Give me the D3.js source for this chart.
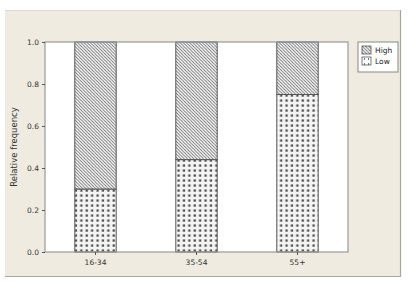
<!DOCTYPE html>
<html>
<head>
<meta charset="utf-8">
<script src="https://cdn.jsdelivr.net/npm/d3@7"></script>
<style>
  body { margin: 0; background: #fff; }
  svg { display: block; font-family: "DejaVu Sans", Verdana, sans-serif; }
</style>
</head>
<body>
<script>
// age groups and relative frequency of each level
const ageGroups = ["16-34", "35-54", "55+"];
const lowValues = [0.30, 0.44, 0.75];
const highValues = [0.70, 0.56, 0.25];
const levels = ["High", "Low"];
const yTicks = [0, 0.2, 0.4, 0.6, 0.8, 1.0];

const W = 414, H = 286;
const margin = { top: 42, right: 66, bottom: 34, left: 45 };
const width = W - margin.left - margin.right,
  height = H - margin.top - margin.bottom;

const svg = d3.select("body").append("svg")
  .attr("width", W)
  .attr("height", H);

// patterns
const defs = svg.append("defs");
const hatch = defs.append("pattern")
  .attr("id", "hatch")
  .attr("patternUnits", "userSpaceOnUse")
  .attr("width", 3.2).attr("height", 3.2);
hatch.append("rect").attr("width", 3.2).attr("height", 3.2).attr("fill", "#fff");
hatch.append("path")
  .attr("d", "M-1,-1 L4.2,4.2 M-1,2.2 L1,4.2 M2.2,-1 L4.2,1")
  .attr("stroke", "#666").attr("stroke-width", 0.85);

const dots = defs.append("pattern")
  .attr("id", "dots")
  .attr("patternUnits", "userSpaceOnUse")
  .attr("x", 77).attr("y", 1)
  .attr("width", 5.4).attr("height", 5);
dots.append("rect").attr("width", 5.4).attr("height", 5).attr("fill", "#f4f4f4");
dots.append("rect").attr("x", 1.4).attr("y", 1.4)
  .attr("width", 2.3).attr("height", 2.3).attr("fill", "#505050");

// panel background
svg.append("rect")
  .attr("x", 5).attr("y", 10)
  .attr("width", 395).attr("height", 266)
  .attr("fill", "#efebe1");
svg.append("path")
  .attr("d", "M5,276.5 H400.5 V10")
  .attr("fill", "none").attr("stroke", "#a9a69e").attr("stroke-width", 1.2);
svg.append("path")
  .attr("d", "M5,10.5 H400")
  .attr("fill", "none").attr("stroke", "#dcd8ce");

const g = svg.append("g")
  .attr("transform", "translate(" + margin.left + "," + margin.top + ")");

const x = d3.scaleBand().domain(ageGroups).range([0, width])
  .paddingInner(0.59).paddingOuter(0.295);
const y = d3.scaleLinear().domain([0, 1]).range([height, 0]);

// plot area
g.append("rect")
  .attr("width", width).attr("height", height)
  .attr("fill", "#fff");

const stacked = ageGroups.map((a, i) => ({ group: a, low: lowValues[i], high: highValues[i] }));

// low part
g.selectAll(".low").data(stacked).enter().append("rect")
  .attr("class", "low")
  .attr("x", d => x(d.group))
  .attr("y", d => y(d.low))
  .attr("width", x.bandwidth())
  .attr("height", d => y(0) - y(d.low))
  .attr("fill", "url(#dots)")
  .attr("stroke", "#555").attr("stroke-width", 1);

// high part
g.selectAll(".high").data(stacked).enter().append("rect")
  .attr("class", "high")
  .attr("x", d => x(d.group))
  .attr("y", d => y(d.low + d.high))
  .attr("width", x.bandwidth())
  .attr("height", d => y(d.low) - y(d.low + d.high))
  .attr("fill", "url(#hatch)")
  .attr("stroke", "#555").attr("stroke-width", 1);

// frame
g.append("rect")
  .attr("width", width).attr("height", height)
  .attr("fill", "none").attr("stroke", "#999").attr("stroke-width", 1.2);

// axes
const yAxis = g.append("g")
  .call(d3.axisLeft(y).tickValues(yTicks).tickFormat(d3.format(".1f")).tickSize(3).tickPadding(3));
const xAxis = g.append("g")
  .attr("transform", "translate(0," + height + ")")
  .call(d3.axisBottom(x).tickSize(3).tickPadding(5));

[yAxis, xAxis].forEach(ax => {
  ax.select(".domain").remove();
  ax.selectAll("line").attr("stroke", "#555");
  ax.selectAll("text").attr("fill", "#333").style("font-size", "7.5px").style("font-family", "DejaVu Sans, sans-serif");
});

// y label
svg.append("text")
  .attr("transform", "translate(17," + (margin.top + height / 2) + ") rotate(-90)")
  .attr("text-anchor", "middle")
  .attr("fill", "#333")
  .style("font-size", "8.5px")
  .text("Relative frequency");

// legend
const lg = svg.append("g").attr("transform", "translate(358,42)");
lg.append("rect").attr("width", 40).attr("height", 30)
  .attr("fill", "#fff").attr("stroke", "#888");
levels.forEach((lv, i) => {
  lg.append("rect")
    .attr("x", 4).attr("y", 4 + i * 11)
    .attr("width", 9).attr("height", 8)
    .attr("fill", lv === "High" ? "url(#hatch)" : "#fff")
    .attr("stroke", "#555").attr("stroke-width", 0.8);
  if (lv === "Low") {
    lg.append("path")
      .attr("d", "M6,17 h1 M10,17 h1 M6,22 h1 M10,22 h1")
      .attr("stroke", "#444").attr("stroke-width", 1.6);
  }
  lg.append("text")
    .attr("x", 17).attr("y", 11 + i * 11)
    .attr("fill", "#222")
    .style("font-size", "7.5px")
    .text(lv);
});
</script>
</body>
</html>
